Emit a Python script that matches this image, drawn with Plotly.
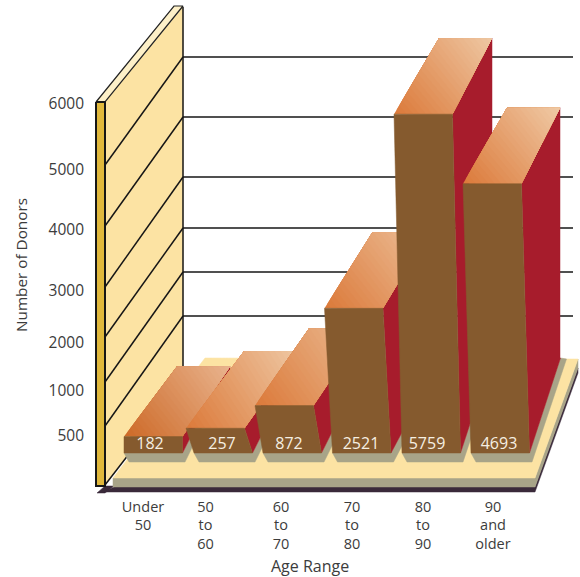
import numpy as np
import plotly.graph_objects as go

# Data
age_labels = ["Under<br>50", "50<br>to<br>60", "60<br>to<br>70", "70<br>to<br>80", "80<br>to<br>90", "90<br>and<br>older"]
donors = [182, 257, 872, 2521, 5759, 4693]
tick_values = [500, 1000, 2000, 3000, 4000, 5000, 6000]

# Pseudo-3D scale: donor count -> height of a bar's top on the drawing axes
scale_values = [0, 200, 250, 500, 1000, 2000, 3000, 4000, 5000, 6000]
scale_heights = [453, 435, 428.5, 419, 401, 338, 281, 226, 165, 98]

# Wall rules: height of each tick at the wall's near edge and far edge
wall_near = [426, 382, 337, 287, 226, 165, 102]
wall_far = [316, 272, 228, 177, 117, 57, 7]
tick_label_pos = [436, 391, 343, 291, 230, 170, 104]
age_label_pos = [143, 205.5, 281, 352, 423, 493]

# Layout of the bar slots, left to right
slot_left = [124, 194, 263, 332.5, 402, 471]
slot_caption = [150, 222, 289, 361, 427, 499]
slot_lean = [0, 8, 8, 8, 8, 8]
slot_depth_dx = [53, 58, 54, 48, 45, 44]
slot_depth_dy = [70, 77, 77, 76, 76, 76]
slot_back_width = [53, 55, 56, 56, 53, 53]
slot_foot_dx = [20, 40, 45, 48, 31, 31]
slot_foot_dy = [40, 80, 90, 90, 95, 95]
slot_front_near = ["#CE6A28"] + ["#DC7A3A"] * 5
slot_front_far = ["#E9B48E", "#EFC8A4", "#EBBC94", "#EDC09A", "#EFC8A4", "#F0CAA6"]
BAR_WIDTH = 58.5
BAR_BASE = 453
PLOT_LEFT, PLOT_BOTTOM = 90, 495

BROWN = "#855A2E"
CRIMSON = "#A71C2C"
WALL = "#FCE3A3"
WALL_TOP = "#FDF0C8"
WALL_EDGE = "#E0B83C"
OLIVE = "#A8A488"
DARK = "#3A2A3A"
INK = "#161616"
TEXT = "#3C3C3C"
FONT = "Open Sans"

fig = go.Figure()


def poly(xs, ys, fill, line=None, width=1.0):
    fig.add_trace(go.Scatter(
        x=list(xs) + [xs[0]], y=list(ys) + [ys[0]], mode="lines", fill="toself",
        fillcolor=fill, line=dict(color=line or fill, width=width if line else 0.5),
        hoverinfo="skip", showlegend=False))


def rule(xs, ys, color=INK, width=1.5):
    fig.add_trace(go.Scatter(x=xs, y=ys, mode="lines", line=dict(color=color, width=width),
                             hoverinfo="skip", showlegend=False))


def rgb(h):
    return np.array([int(h[i:i + 2], 16) for i in (1, 3, 5)], float)


def clip_above(pts, a, b, limit):
    """Keep the part of a polygon in (u, v) where a*u + b*v >= limit."""
    out = []
    for i, p in enumerate(pts):
        q = pts[(i + 1) % len(pts)]
        dp = a * p[0] + b * p[1] - limit
        dq = a * q[0] + b * q[1] - limit
        if dp >= 0:
            out.append(p)
        if dp * dq < 0:
            s = dp / (dp - dq)
            out.append((p[0] + s * (q[0] - p[0]), p[1] + s * (q[1] - p[1])))
    return out


def shaded_top(p00, p10, p01, p11, near, far, bands=26, a=0.35, b=0.65):
    """Top face painted as overlapping diagonal layers, near colour first, far colour last."""
    c0, c1 = rgb(near), rgb(far)
    for k in range(bands):
        lo = k / bands
        cell = clip_above([(0, 0), (1, 0), (1, 1), (0, 1)], a, b, lo)
        if len(cell) < 3:
            continue
        xs, ys = [], []
        for u, v in cell:
            xs.append((1 - u) * (1 - v) * p00[0] + u * (1 - v) * p10[0] + (1 - u) * v * p01[0] + u * v * p11[0])
            ys.append((1 - u) * (1 - v) * p00[1] + u * (1 - v) * p10[1] + (1 - u) * v * p01[1] + u * v * p11[1])
        c = c0 + (c1 - c0) * (k + 0.5) / bands
        fig.add_trace(go.Scatter(
            x=xs + [xs[0]], y=ys + [ys[0]], mode="none", fill="toself",
            fillcolor="rgb(%d,%d,%d)" % tuple(c), hoverinfo="skip", showlegend=False))


# Back wall with its slanted rules and rail
poly([105, 183, 183, 105], [102, 7, 384, 485], WALL)
for near, far in zip(wall_near[:-1], wall_far[:-1]):
    rule([105, 183], [near, far])
rule([183, 183], [7, 384], width=1.5)
for far in wall_far[:-1]:
    rule([183, 573], [far, far])

# Floor slab: dark underside, olive edge, pale top
poly([97, 105, 114, 105], [493, 493, 486, 486], DARK)
poly([114, 535, 578, 578, 535, 104], [487, 487, 368, 373, 492, 492], DARK)
poly([113, 535, 578, 578, 535, 113], [478, 478, 359, 368, 487, 487], OLIVE)
poly([113, 535, 578, 205], [478, 478, 359, 358], WALL)
rule([105, 183], [485, 384])

# Wall end rail and cap drawn over the floor
poly([96, 174, 183, 105], [102, 6, 6, 102], WALL_TOP, line="#222222", width=1.2)
poly([96, 105, 105, 96], [102, 102, 486, 486], WALL_EDGE, line=INK, width=2)

# Bars, drawn left to right so that each one overlaps its neighbour
for i, value in enumerate(donors):
    top = float(np.interp(value, scale_values, scale_heights))
    bl = slot_left[i]
    br = bl + BAR_WIDTH
    tl = bl - slot_lean[i]
    tr = tl + BAR_WIDTH
    bdx, bdy = slot_depth_dx[i], slot_depth_dy[i]
    btl = (tl + bdx, top - bdy)
    btr = (tl + bdx + slot_back_width[i], top - bdy)
    foot = (br + slot_foot_dx[i], BAR_BASE - slot_foot_dy[i])
    # cast shadow on the floor
    poly([bl + 5, br + 2.5, foot[0] + 6, foot[0], br, bl],
         [BAR_BASE + 9, BAR_BASE + 9, foot[1] + 1, foot[1], BAR_BASE, BAR_BASE], OLIVE)
    # right side, top, front
    poly([tr, btr[0], btr[0], foot[0], br], [top, btr[1], foot[1], foot[1], BAR_BASE], CRIMSON)
    shaded_top((tl, top), (tr, top), btl, btr, slot_front_near[i], slot_front_far[i])
    poly([tl, tr, br, bl], [top, top, BAR_BASE, BAR_BASE], BROWN)

# Value captions on the bar fronts
fig.add_trace(go.Scatter(
    x=slot_caption, y=[445] * len(donors), mode="text", text=[str(v) for v in donors],
    textfont=dict(family=FONT, size=16, color="#F6EFE2"), textposition="middle center",
    hoverinfo="skip", showlegend=False))

notes = [
    dict(text="Age Range", x=310, xref="x", xanchor="center", yanchor="middle",
         y=-(566 - PLOT_BOTTOM) / PLOT_BOTTOM, yref="paper", showarrow=False,
         font=dict(family=FONT, size=16, color=TEXT)),
    dict(text="Number of Donors", x=-(PLOT_LEFT - 21) / (580 - PLOT_LEFT), xref="paper",
         y=1 - 265 / PLOT_BOTTOM, yref="paper", xanchor="center", yanchor="middle",
         textangle=-90, showarrow=False, font=dict(family=FONT, size=15.3, color=TEXT)),
]

fig.update_layout(
    width=580, height=577, margin=dict(l=PLOT_LEFT, r=0, t=0, b=577 - PLOT_BOTTOM),
    paper_bgcolor="white", plot_bgcolor="white", showlegend=False,
    font=dict(family=FONT, size=15.5, color=TEXT),
    xaxis=dict(range=[PLOT_LEFT, 580], showgrid=False, zeroline=False, showline=False, ticks="",
               tickmode="array", tickvals=age_label_pos, ticktext=age_labels,
               tickangle=0, ticklabelstandoff=1, tickfont=dict(family=FONT, size=14.5, color=TEXT),
               fixedrange=True),
    yaxis=dict(range=[PLOT_BOTTOM, 0], showgrid=False, zeroline=False, showline=False, ticks="",
               tickmode="array", tickvals=tick_label_pos, ticktext=[str(t) for t in tick_values],
               ticklabelstandoff=5, tickfont=dict(family=FONT, size=15.5, color=TEXT), fixedrange=True),
    annotations=notes,
)

fig.write_html("out.html", config=dict(displayModeBar=False))
